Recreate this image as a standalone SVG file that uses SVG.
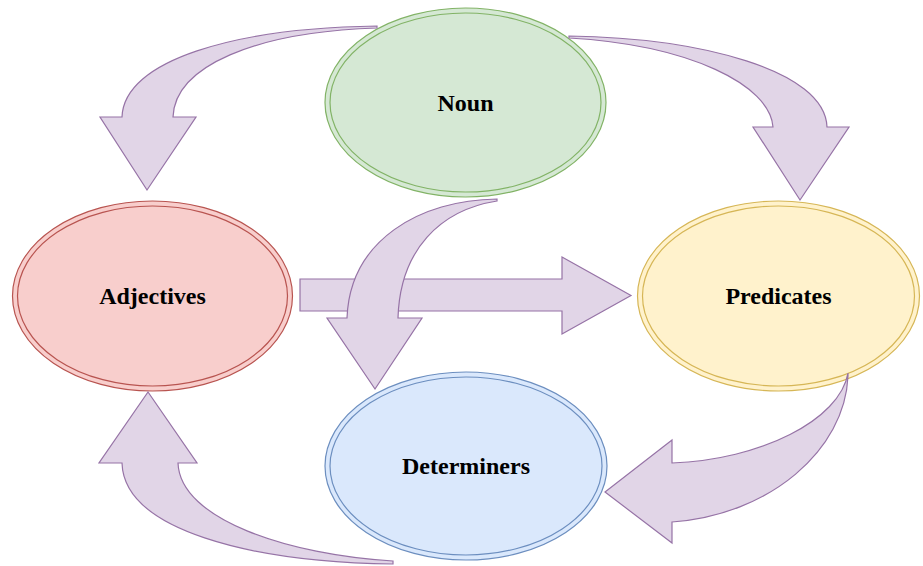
<svg xmlns="http://www.w3.org/2000/svg" width="923" height="566" viewBox="0 0 923 566">
  <style>
    .outer, .inner { stroke-width: 1.2; }
    .label { font-family: "Liberation Serif", "Times New Roman", serif; font-weight: bold; font-size: 24px; fill: #000; text-anchor: middle; }
    .arrow { fill: #e1d5e7; stroke: #9673a6; stroke-width: 1.2; stroke-linejoin: miter; }
    .green { fill: #d5e8d4; stroke: #82b366; }
    .red { fill: #f8cecc; stroke: #b85450; }
    .yellow { fill: #fff2cc; stroke: #d6b656; }
    .blue { fill: #dae8fc; stroke: #6c8ebf; }
    .inner { fill: none; }
  </style>
  <rect width="923" height="566" fill="#ffffff"/>

  <!-- nodes: double-bordered ellipses -->
  <g id="noun">
    <ellipse class="outer green" cx="465.5" cy="102.5" rx="140.5" ry="94.5"/>
    <ellipse class="inner green" style="fill:none" cx="465.5" cy="102.5" rx="135.5" ry="89.5"/>
    <text class="label" x="465.5" y="111">Noun</text>
  </g>
  <g id="adjectives">
    <ellipse class="outer red" cx="152.5" cy="296" rx="140" ry="95"/>
    <ellipse class="inner red" style="fill:none" cx="152.5" cy="296" rx="135" ry="90"/>
    <text class="label" x="152.5" y="304">Adjectives</text>
  </g>
  <g id="predicates">
    <ellipse class="outer yellow" cx="778.5" cy="296" rx="141" ry="95"/>
    <ellipse class="inner yellow" style="fill:none" cx="778.5" cy="296" rx="136" ry="90"/>
    <text class="label" x="778.5" y="304">Predicates</text>
  </g>
  <g id="determiners">
    <ellipse class="outer blue" cx="466" cy="466" rx="141" ry="94"/>
    <ellipse class="inner blue" style="fill:none" cx="466" cy="466" rx="136" ry="89"/>
    <text class="label" x="466" y="474">Determiners</text>
  </g>

  <!-- connectors: block arrows -->
  <g id="connectors">
    <!-- Noun to Adjectives -->
    <path class="arrow" d="M377,26 C235,28 124,60 122,117 L100,117 L147,190 L196,117 L173,117 C175,66 255,32 377,28 Z"/>
    <!-- Noun to Predicates -->
    <path class="arrow" d="M569,36 C700,38 825,70 827,127 L849,127 L800,200 L753,127 L773,127 C770,85 690,45 569,38 Z"/>
    <!-- Adjectives to Predicates -->
    <path class="arrow" d="M300,279 L562,279 L562,257 L631,295.5 L562,334 L562,311 L300,311 Z"/>
    <!-- Noun to Determiners -->
    <path class="arrow" d="M497,199 C420,200 350,240 347,318 L327,318 L375,389 L422,318 L398,318 C400,250 440,210 497,201 Z"/>
    <!-- Predicates to Determiners -->
    <path class="arrow" d="M848,373 C840,420 760,460 672,463 L672,440 L605,492 L672,543 L672,522 C770,515 845,450 848,376 Z"/>
    <!-- Determiners to Adjectives -->
    <path class="arrow" d="M393,564 C250,562 124,530 122,463 L99,463 L148,392 L197,463 L178,463 C180,520 290,555 393,561 Z"/>
  </g>
</svg>
